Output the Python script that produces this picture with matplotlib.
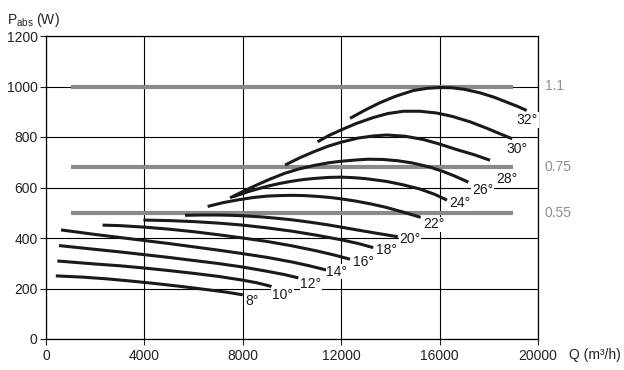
import matplotlib
matplotlib.use("Agg")
import matplotlib.pyplot as plt

plt.rcParams['font.family'] = ['Liberation Sans', 'DejaVu Sans']
plt.rcParams['mathtext.fontset'] = 'custom'
plt.rcParams['mathtext.rm'] = 'Liberation Sans'
plt.rcParams['mathtext.it'] = 'Liberation Sans:italic'

# ---- data (Q in m3/h, P in W) ----
Q8 = [400, 1500, 2500, 3500, 4500, 5500, 6500, 7300, 8000]
P8 = [250, 245, 238, 229, 219, 208, 196, 186, 175]
Q10 = [460, 2000, 3000, 4000, 5000, 6000, 7000, 8000, 8600, 9170]
P10 = [309, 297, 290, 281, 271, 260, 248, 233, 222, 208]
Q12 = [530, 2000, 3000, 4000, 5000, 6000, 7000, 8000, 9000, 9700, 10260]
P12 = [370, 355, 345, 334, 323, 311, 299, 285, 268, 255, 242]
Q14 = [610, 2000, 3000, 4000, 5000, 6000, 7000, 8000, 9000, 10000, 10700, 11410]
P14 = [432, 414, 402, 390, 378, 365, 352, 338, 323, 305, 290, 273]
Q16 = [2300, 3000, 4000, 5000, 6000, 7000, 8000, 9000, 10000, 11000, 11700, 12360]
P16 = [451, 449, 443, 435, 425, 413, 400, 386, 369, 349, 333, 316]
Q18 = [3960, 5000, 6000, 7000, 8000, 9000, 10000, 11000, 12000, 12700, 13300]
P18 = [471, 469, 465, 459, 451, 440, 427, 411, 393, 378, 362]
Q20 = [5650, 6300, 7000, 7500, 8000, 8700, 9400, 10000, 10700, 11400, 12000,
       12700, 13300, 13800, 14300]
P20 = [490, 491, 491, 490, 488, 484, 478, 472, 463, 453, 443, 431, 421, 413, 405]
Q22 = [6570, 7200, 7800, 8400, 9000, 9500, 10000, 10500, 11000, 11500, 12000,
       12600, 13200, 13800, 14500, 15230]
P22 = [525, 540, 551, 560, 566, 568, 569, 568, 565, 561, 555, 546, 535, 522,
       503, 482]
Q24 = [7600, 8300, 9000, 9500, 10000, 10500, 10930, 11500, 12000, 12500, 13000,
       13850, 14500, 15200, 15800, 16300]
P24 = [563, 586, 605, 616, 625, 632, 636, 640, 641, 639, 635, 624, 611, 594,
       573, 550]
Q26 = [7480, 8000, 8500, 9100, 9700, 10300, 10930, 11500, 12000, 12600, 13100,
       13700, 14300, 14900, 15600, 16100, 16600, 17170]
P26 = [559, 584, 607, 633, 656, 674, 688, 698, 704, 709, 712, 711, 706, 697,
       681, 665, 646, 621]
Q28 = [9720, 10300, 10870, 11450, 12020, 12700, 13300, 13850, 14600, 15340,
       16000, 16700, 17400, 18050]
P28 = [689, 717, 741, 763, 780, 796, 804, 808, 803, 790, 772, 750, 730, 708]
Q30 = [11040, 11500, 12020, 12600, 13300, 13900, 14530, 15200, 15880, 16500,
       17240, 17910, 18400, 18950]
P30 = [781, 806, 829, 853, 877, 893, 902, 902, 895, 882, 860, 835, 815, 793]
Q32 = [12360, 13000, 13580, 14200, 14930, 15500, 16000, 16500, 17000, 17640,
       18200, 18730, 19200, 19540]
P32 = [874, 908, 936, 961, 984, 993, 996, 995, 989, 975, 958, 938, 920, 905]

curve_q = [Q8, Q10, Q12, Q14, Q16, Q18, Q20, Q22, Q24, Q26, Q28, Q30, Q32]
curve_p = [P8, P10, P12, P14, P16, P18, P20, P22, P24, P26, P28, P30, P32]
angle_labels = ["8°", "10°", "12°", "14°", "16°", "18°", "20°", "22°",
                "24°", "26°", "28°", "30°", "32°"]

motor_power = [1000, 680, 500]           # W level of motor limit lines
motor_labels = ["1.1", "0.75", "0.55"]   # kW
motor_q_range = [1000, 19000]

x_ticks = [0, 4000, 8000, 12000, 16000, 20000]
y_ticks = [0, 200, 400, 600, 800, 1000, 1200]

# ---- layout ----
label_pos = [(8360, 150), (9620, 174), (10770, 218), (11820, 267),
             (12900, 306), (13850, 352), (14800, 396), (15750, 454),
             (16830, 537), (17750, 590), (18730, 635), (19160, 751),
             (19570, 867)]

fig = plt.figure(figsize=(6.24, 3.70), dpi=100)
ax = fig.add_axes([46/624, 1-339/370, (538-46)/624, (339-36)/370])
ax.set_xlim(0, 20000)
ax.set_ylim(0, 1200)
ax.set_xticks(x_ticks)
ax.set_yticks(y_ticks)
ax.set_xticklabels([str(v) for v in x_ticks])
ax.set_yticklabels([str(v) for v in y_ticks])
ax.grid(True, color='black', linewidth=0.8, zorder=0)
ax.set_axisbelow(True)
for s in ax.spines.values():
    s.set_linewidth(0.9)
ax.tick_params(axis='both', length=4, width=0.8, labelsize=10,
               colors='#222222', pad=2)
ax.tick_params(axis='x', pad=3)

for lvl in motor_power:
    ax.plot(motor_q_range, [lvl, lvl], color='#8a8a8a', lw=3.0,
            solid_capstyle='butt', zorder=2)

for q, p in zip(curve_q, curve_p):
    ax.plot(q, p, color='#1a1a1a', lw=2.2, solid_capstyle='butt',
            solid_joinstyle='round', zorder=3)

for (x, y), t in zip(label_pos, angle_labels):
    ax.text(x, y, t, ha='center', va='center', fontsize=10,
            color='#1a1a1a', zorder=4,
            bbox=dict(boxstyle='square,pad=0.05', fc='white', ec='none'))

for lvl, t in zip(motor_power, motor_labels):
    ax.text(20280, lvl, t, ha='left', va='center', fontsize=10,
            color='#8f8f8f', clip_on=False)

fig.text(7/624, 1-20/370, r"P$_{\mathrm{abs}}$ (W)", ha='left', va='center',
         fontsize=10, color='#222222')
fig.text(569/624, 1-355/370, "Q (m³/h)", ha='left', va='center',
         fontsize=10, color='#222222')

fig.savefig("out.png", dpi=100)
